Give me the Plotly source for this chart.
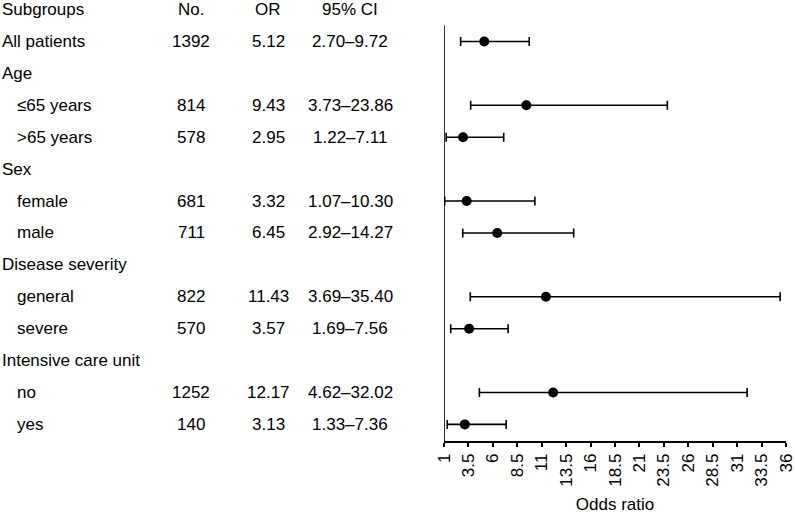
import plotly.graph_objects as go

# ---- data ----
headers = ["Subgroups", "No.", "OR", "95% CI"]
labels = ["All patients", "Age", "≤65 years", ">65 years", "Sex", "female", "male",
          "Disease severity", "general", "severe", "Intensive care unit", "no", "yes"]
indent = [False, False, True, True, False, True, True, False, True, True, False, True, True]
n_pat = [1392, None, 814, 578, None, 681, 711, None, 822, 570, None, 1252, 140]
or_vals = [5.12, None, 9.43, 2.95, None, 3.32, 6.45, None, 11.43, 3.57, None, 12.17, 3.13]
ci_lo = [2.70, None, 3.73, 1.22, None, 1.07, 2.92, None, 3.69, 1.69, None, 4.62, 1.33]
ci_hi = [9.72, None, 23.86, 7.11, None, 10.30, 14.27, None, 35.40, 7.56, None, 32.02, 7.36]
x_ticks = [1, 3.5, 6, 8.5, 11, 13.5, 16, 18.5, 21, 23.5, 26, 28.5, 31, 33.5, 36]

W, H = 795, 514
FONT = "Liberation Sans, Arial, Helvetica, sans-serif"
FS = 17
LW = 1.6
col_label = 0 / W
col_indent = 15 / W
col_n = 191 / W
col_or = 268 / W
col_ci = 350 / W

fig = go.Figure()

ys, xs, ep, em = [], [], [], []
for i, v in enumerate(or_vals):
    if v is not None:
        ys.append(i + 1)
        xs.append(v)
        ep.append(ci_hi[i] - v)
        em.append(v - ci_lo[i])

fig.add_trace(go.Scatter(
    x=xs, y=ys, mode="markers",
    marker=dict(color="black", size=10),
    error_x=dict(type="data", symmetric=False, array=ep, arrayminus=em,
                 color="black", thickness=LW, width=4.5),
    cliponaxis=False, showlegend=False, hoverinfo="skip",
))

annots = []
def txt(x, y, s, anchor):
    annots.append(dict(x=x, y=y, xref="paper", yref="y", text=s, showarrow=False,
                       xanchor=anchor, yanchor="middle",
                       font=dict(family=FONT, size=FS, color="black")))

txt(col_label, 0, headers[0], "left")
txt(col_n, 0, headers[1], "center")
txt(col_or, 0, headers[2], "center")
txt(col_ci, 0, headers[3], "center")
for i, lab in enumerate(labels):
    y = i + 1
    txt(col_indent if indent[i] else col_label, y, lab, "left")
    if or_vals[i] is not None:
        txt(col_n, y, str(n_pat[i]), "center")
        txt(col_or, y, f"{or_vals[i]:.2f}", "center")
        txt(col_ci, y, f"{ci_lo[i]:.2f}–{ci_hi[i]:.2f}", "center")

y_bottom = 13.52
y_top = -0.30

fig.add_shape(type="line", xref="x", yref="y", x0=1, x1=1, y0=0.5, y1=y_bottom,
              line=dict(color="black", width=LW))

fig.update_layout(
    width=W, height=H,
    margin=dict(l=0, r=0, t=0, b=73),
    paper_bgcolor="white", plot_bgcolor="white",
    font=dict(family=FONT, size=FS, color="black"),
    annotations=annots,
    xaxis=dict(
        domain=[444 / W, 786 / W], range=[1, 36.0001],
        tickmode="array", tickvals=x_ticks, ticktext=[f"{t:g}" for t in x_ticks],
        tickangle=-90, ticks="outside", ticklen=4, tickwidth=LW, tickcolor="black",
        ticklabeloverflow="allow",
        showline=True, linecolor="black", linewidth=LW,
        showgrid=False, zeroline=False,
        tickfont=dict(family=FONT, size=FS, color="black"),
        title=dict(text="Odds ratio", standoff=16,
                   font=dict(family=FONT, size=FS, color="black")),
        automargin=False,
    ),
    yaxis=dict(range=[y_bottom, y_top], visible=False, showgrid=False, zeroline=False),
)

fig.write_html("out.html", config={"displayModeBar": False},
               post_script="document.body.style.margin='0';")
